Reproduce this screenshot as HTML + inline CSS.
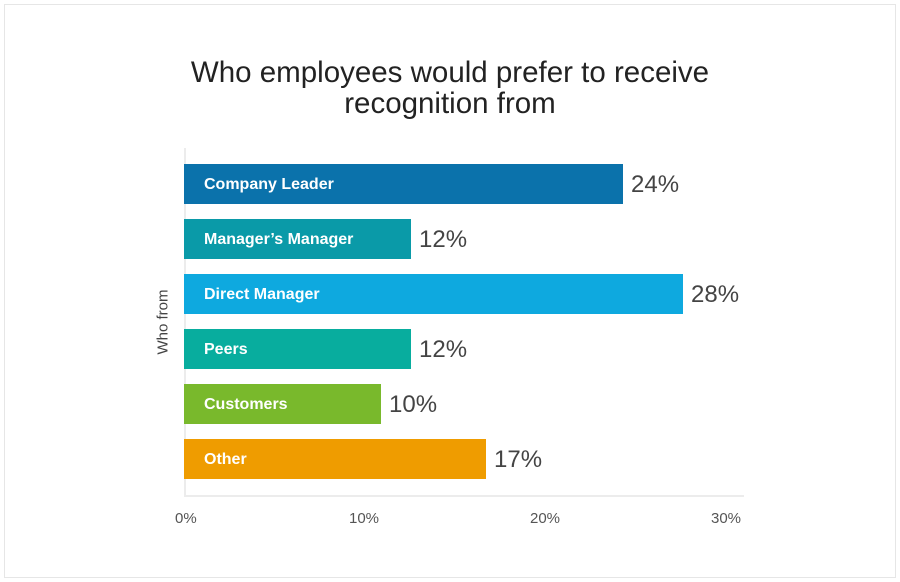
<!DOCTYPE html>
<html><head><style>
body{margin:0;background:#fff;}
#c{position:relative;width:900px;height:582px;font-family:"Liberation Sans",sans-serif;overflow:hidden;}
.frame{position:absolute;left:4px;top:4px;width:890px;height:572px;border:1px solid #e6e6e6;}
.t{position:absolute;left:0;width:900px;text-align:center;font-size:29.5px;color:#222;}
.bar{position:absolute;left:184px;height:40px;}
.bl{position:absolute;left:20px;top:1px;line-height:40px;color:#fff;font-size:16px;font-weight:bold;}
.v{position:absolute;font-size:24px;color:#444;line-height:42px;}
.x{position:absolute;top:510px;font-size:15px;color:#555;}
</style></head><body><div id="c">
<div class="frame"></div>
<div class="t" style="top:56px">Who employees would prefer to receive</div>
<div class="t" style="top:87px">recognition from</div>
<div style="position:absolute;left:184px;top:148px;width:2px;height:349px;background:#ececec"></div>
<div style="position:absolute;left:184px;top:495px;width:560px;height:2px;background:#ececec"></div>
<div style="position:absolute;left:163px;top:322px;transform:translate(-50%,-50%) rotate(-90deg);font-size:15px;color:#444;white-space:nowrap">Who from</div>
<div class="bar" style="top:164px;width:439px;background:#0b72ab"><span class="bl">Company Leader</span></div><div class="v" style="left:631px;top:164px">24%</div>
<div class="bar" style="top:219px;width:227px;background:#0a9aa8"><span class="bl">Manager’s Manager</span></div><div class="v" style="left:419px;top:219px">12%</div>
<div class="bar" style="top:274px;width:499px;background:#0ea9df"><span class="bl">Direct Manager</span></div><div class="v" style="left:691px;top:274px">28%</div>
<div class="bar" style="top:329px;width:227px;background:#08ad9e"><span class="bl">Peers</span></div><div class="v" style="left:419px;top:329px">12%</div>
<div class="bar" style="top:384px;width:197px;background:#79b92c"><span class="bl">Customers</span></div><div class="v" style="left:389px;top:384px">10%</div>
<div class="bar" style="top:439px;width:302px;background:#ef9c00"><span class="bl">Other</span></div><div class="v" style="left:494px;top:439px">17%</div>
<div class="x" style="left:175px">0%</div>
<div class="x" style="left:349px">10%</div>
<div class="x" style="left:530px">20%</div>
<div class="x" style="left:711px">30%</div>
</div></body></html>
